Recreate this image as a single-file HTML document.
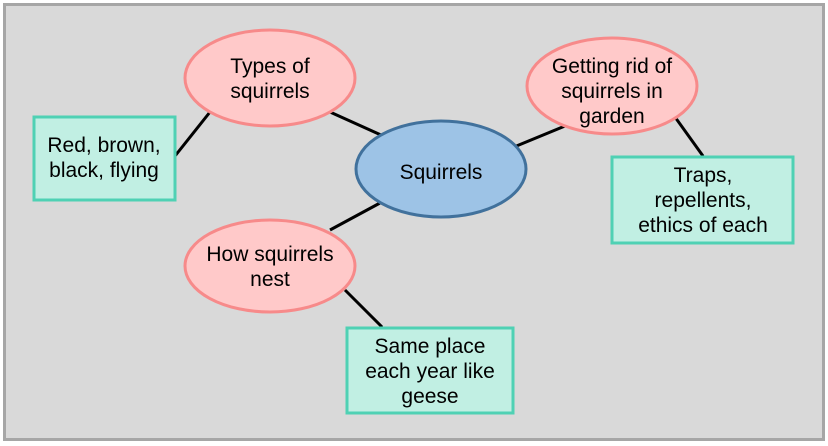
<!DOCTYPE html>
<html><head><style>
body{margin:0;background:#fff}
svg{display:block}
text{font-family:"Liberation Sans",sans-serif;font-size:21px;fill:#000;text-anchor:middle}
</style></head><body>
<svg width="828" height="446" viewBox="0 0 828 446">
<rect x="4.5" y="4.5" width="819" height="435" fill="#d9d9d9" stroke="#a6a6a6" stroke-width="3"/>
<g stroke="#000" stroke-width="3">
<line x1="210" y1="112" x2="175" y2="156"/>
<line x1="330" y1="112" x2="381" y2="135"/>
<line x1="514" y1="147" x2="565" y2="126"/>
<line x1="675" y1="117" x2="703" y2="156"/>
<line x1="380" y1="203" x2="330" y2="230"/>
<line x1="345" y1="290" x2="382" y2="327"/>
</g>
<g fill="#ffc9c9" stroke="#f78a8a" stroke-width="3">
<ellipse cx="270" cy="78" rx="85" ry="48"/>
<ellipse cx="612" cy="86" rx="85" ry="48"/>
<ellipse cx="270" cy="266" rx="85" ry="46"/>
</g>
<ellipse cx="441" cy="169" rx="85" ry="48" fill="#9dc3e6" stroke="#41719c" stroke-width="3"/>
<g fill="#c1efe3" stroke="#4fd1b4" stroke-width="3">
<rect x="34" y="117" width="141" height="83"/>
<rect x="612" y="157" width="181" height="86"/>
<rect x="347" y="328" width="166" height="85"/>
</g>
<text x="270" y="73">Types of</text><text x="270" y="98">squirrels</text>
<text x="612" y="73">Getting rid of</text><text x="612" y="98">squirrels in</text><text x="612" y="123">garden</text>
<text x="441" y="179">Squirrels</text>
<text x="270" y="261">How squirrels</text><text x="270" y="286">nest</text>
<text x="104" y="152">Red, brown,</text><text x="104" y="177">black, flying</text>
<text x="703" y="182">Traps,</text><text x="703" y="207">repellents,</text><text x="703" y="232">ethics of each</text>
<text x="430" y="353">Same place</text><text x="430" y="378">each year like</text><text x="430" y="403">geese</text>
</svg>
</body></html>
